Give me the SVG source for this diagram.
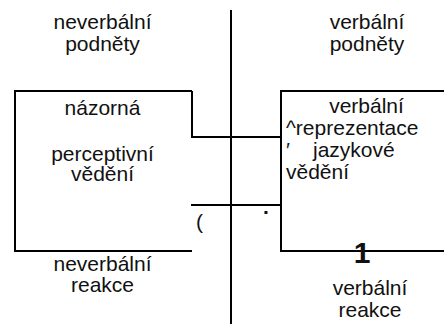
<svg xmlns="http://www.w3.org/2000/svg" width="444" height="324" viewBox="0 0 444 324">
<style>
text{font-family:"Liberation Sans",Arial,sans-serif;font-size:21px;fill:#111}
.c{text-anchor:middle}
.l{stroke:#000;stroke-width:2;fill:none}
</style>
<rect width="444" height="324" fill="#fff"/>
<g id="connectors">
<line class="l" x1="231" y1="10" x2="231" y2="324"/>
<path class="l" d="M192,91 V137 H281"/>
<line class="l" x1="191" y1="205" x2="281" y2="205"/>
</g>
<g id="left-box">
<path class="l" d="M192,91 H15 V251 H192"/>
<text class="c" x="102.5" y="115">názorná</text>
<text class="c" x="102.5" y="161">perceptivní</text>
<text class="c" x="102.5" y="181">vědění</text>
</g>
<g id="right-box">
<path class="l" d="M444,91 H281 V251 H444"/>
<text class="c" x="366.5" y="113">verbální</text>
<text x="286" y="135">^reprezentace</text>
<text x="286" y="157">′</text>
<text x="313" y="157">jazykové</text>
<text x="286" y="179">vědění</text>
</g>
<g id="nonverbal-stimuli">
<text class="c" x="102.5" y="29">neverbální</text>
<text class="c" x="102.5" y="51">podněty</text>
</g>
<g id="verbal-stimuli">
<text class="c" x="367" y="29">verbální</text>
<text class="c" x="367" y="51">podněty</text>
</g>
<g id="nonverbal-reaction">
<text class="c" x="102.5" y="271">neverbální</text>
<text class="c" x="102.5" y="292">reakce</text>
</g>
<g id="verbal-reaction">
<text class="c" x="362" y="263" style="font-weight:bold;font-size:30px">1</text>
<text class="c" x="370" y="295">verbální</text>
<text class="c" x="370" y="317">reakce</text>
</g>
<g id="marks">
<text x="196" y="229">(</text>
<text x="263" y="214" style="font-weight:bold">.</text>
</g>
</svg>
